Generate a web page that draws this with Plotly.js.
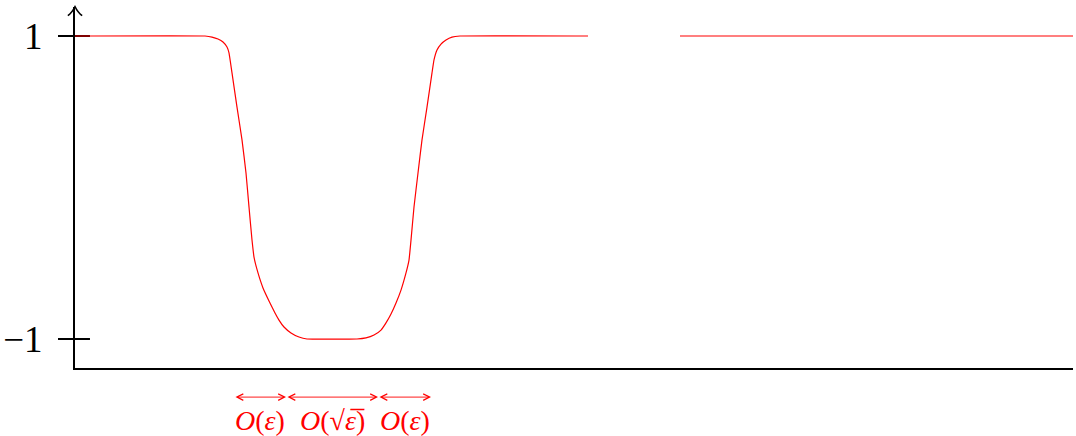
<!DOCTYPE html>
<html>
<head>
<meta charset="utf-8">
<script src="https://cdn.plot.ly/plotly-3.0.1.min.js"></script>
<style>html,body{margin:0;padding:0;background:#fff;}#chart{width:1076px;height:436px;}</style>
</head>
<body>
<div id="chart"></div>
<script>
// Profile (x: horizontal position, y: value)
const profileX = [0,130,137,143,148,152,154,157,162,167,171,174,177,179,183,188,194,200,204,209,216,224,232,
  282,291,299,306,311,316,321,326,331,334,336,339,343,347,352,357,359,362,366,371,377,385,513,
  null,605,998];
const profileY = [1,1,0.993,0.980,0.960,0.927,0.888,0.756,0.531,0.314,0.096,-0.129,-0.347,-0.459,-0.564,-0.663,-0.749,-0.828,-0.875,-0.921,-0.960,-0.987,-1,
  -1,-0.993,-0.974,-0.941,-0.894,-0.835,-0.762,-0.677,-0.564,-0.479,-0.347,-0.129,0.096,0.314,0.531,0.756,0.842,0.908,0.947,0.974,0.993,1,1,
  null,1,1];

const tickValues = [1, -1];
const tickLabels = ['1', '\u22121'];

// Width markers below the axis
const markerBounds = [159, 211, 303, 356];
const markerLabels = ['<i>O</i>(<i>\u03b5</i>)', '<i>O</i>(\u221a<i>\u03b5\u0305</i>)', '<i>O</i>(<i>\u03b5</i>)'];

const red = '#ff0000';

const trace = {
  x: profileX, y: profileY, type: 'scatter', mode: 'lines',
  line: {color: red, width: 1.2, shape: 'spline', smoothing: 0.3},
  connectgaps: false, hoverinfo: 'skip'
};

const annotations = [];
for (let i = 0; i < markerLabels.length; i++) {
  annotations.push({
    xref: 'x', yref: 'paper', x: markerBounds[i+1], y: -0.0806,
    axref: 'x', ayref: 'pixel', ax: markerBounds[i], ay: 0,
    text: '', showarrow: true, arrowside: 'end+start', arrowhead: 5, startarrowhead: 5,
    arrowsize: 1.4, startarrowsize: 1.4, arrowwidth: 0.9, arrowcolor: red, standoff: 0, startstandoff: 0
  });
  annotations.push({
    xref: 'x', yref: 'paper', x: (markerBounds[i] + markerBounds[i+1]) / 2, y: -0.145,
    text: markerLabels[i], showarrow: false, xanchor: 'center', yanchor: 'middle',
    font: {family: 'Liberation Serif, DejaVu Serif, serif', size: 28, color: red}
  });
}

const shapes = [];
// inner half of the y ticks
tickValues.forEach(v => shapes.push({
  type: 'line', xref: 'paper', yref: 'y', x0: 0, x1: 0.015, y0: v, y1: v,
  line: {color: '#000', width: 2}, layer: 'below'
}));
// open arrow head on the y axis
shapes.push({
  type: 'path', xref: 'paper', yref: 'paper',
  path: 'M -0.0072,0.976 Q -0.003,0.984 0,1.001 Q 0.003,0.984 0.0072,0.976',
  line: {color: '#000', width: 1.5}
});

const layout = {
  width: 1076, height: 436,
  margin: {l: 75, r: 3, t: 7, b: 68},
  paper_bgcolor: '#fff', plot_bgcolor: '#fff',
  showlegend: false,
  xaxis: {range: [0, 998], showline: true, linecolor: '#000', linewidth: 2,
    showgrid: false, zeroline: false, showticklabels: false, ticks: '', fixedrange: true},
  yaxis: {range: [-1.1914, 1.1914], showline: true, linecolor: '#000', linewidth: 2,
    showgrid: false, zeroline: false, tickvals: tickValues, ticktext: tickLabels,
    ticks: 'outside', ticklen: 15, tickwidth: 2, tickcolor: '#000',
    ticklabelstandoff: 8,
    tickfont: {family: 'Liberation Serif, DejaVu Serif, serif', size: 37, color: '#000'},
    fixedrange: true},
  shapes: shapes,
  annotations: annotations
};

Plotly.newPlot('chart', [trace], layout, {staticPlot: true, displayModeBar: false});
</script>
</body>
</html>
